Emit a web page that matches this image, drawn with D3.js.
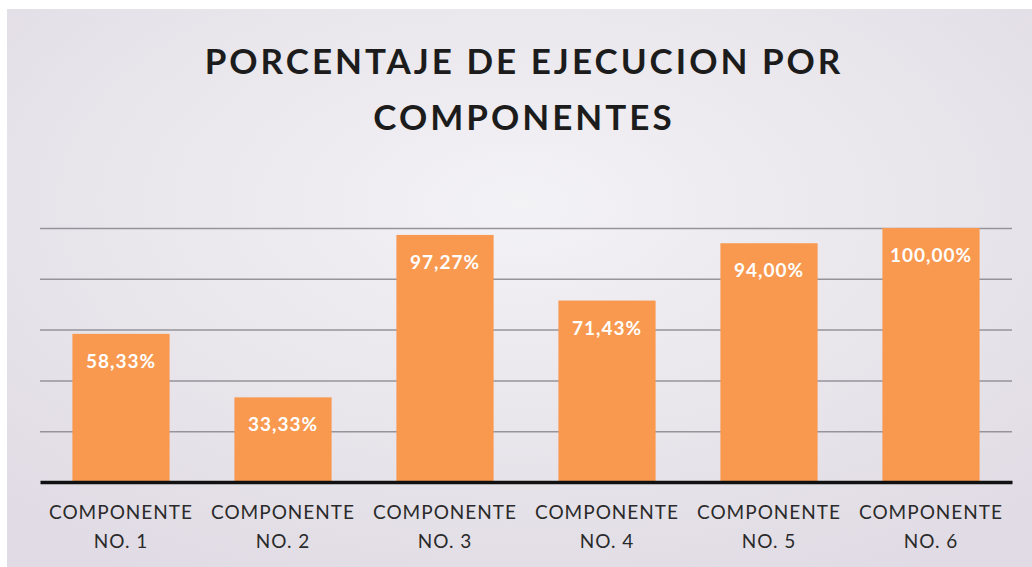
<!DOCTYPE html>
<html>
<head>
<meta charset="utf-8">
<script src="https://cdn.jsdelivr.net/npm/d3@7"></script>
<style>
  body { margin: 0; background: #fff; }
  svg { display: block; }
  text { font-family: Lato, "Open Sans", sans-serif; }
</style>
</head>
<body>
<svg id="chart" width="1032" height="567"></svg>
<script>
var categories = ['COMPONENTE NO. 1', 'COMPONENTE NO. 2', 'COMPONENTE NO. 3',
                  'COMPONENTE NO. 4', 'COMPONENTE NO. 5', 'COMPONENTE NO. 6'];
var values = [58.33, 33.33, 97.27, 71.43, 94.00, 100.00];
var gridTicks = [20, 40, 60, 80, 100];
var titleLines = ['PORCENTAJE DE EJECUCION POR', 'COMPONENTES'];

var svg = d3.select('#chart');
var width = 1032, height = 567;
var margin = {top: 228, right: 20, bottom: 85, left: 40};

// fondo con un poco de sombra como la foto
var defs = svg.append('defs');
var grad = defs.append('radialGradient')
    .attr('id', 'bg')
    .attr('cx', '50%').attr('cy', '35%').attr('r', '75%');
grad.append('stop').attr('offset', '0%').attr('stop-color', '#f3f2f5');
grad.append('stop').attr('offset', '100%').attr('stop-color', '#e0dbe4');

svg.append('rect')
    .attr('x', 7).attr('y', 9)
    .attr('width', width - 7).attr('height', height - 9)
    .attr('fill', 'url(#bg)');

var x = d3.scaleBand()
    .domain(categories)
    .range([margin.left, width - margin.right])
    .paddingInner(0.4)
    .paddingOuter(0.2);

var y = d3.scaleLinear()
    .domain([0, 100])
    .range([height - margin.bottom, margin.top]);

// lineas de cuadricula
svg.append('g')
    .attr('class', 'grid')
    .attr('transform', 'translate(' + margin.left + ',0)')
    .call(d3.axisLeft(y).tickValues(gridTicks).tickSize(-(width - margin.left - margin.right)).tickFormat(''))
    .call(function(g) {
        g.select('.domain').remove();
        g.selectAll('line').attr('stroke', '#96939a').attr('stroke-width', 1.5);
    });

// barras
svg.selectAll('.bar')
    .data(values)
    .enter().append('rect')
    .attr('class', 'bar')
    .attr('x', function(d, i) { return x(categories[i]); })
    .attr('y', function(d) { return y(d); })
    .attr('width', x.bandwidth())
    .attr('height', function(d) { return y(0) - y(d); })
    .attr('fill', '#f8994f');

// etiquetas de valor
svg.selectAll('.val')
    .data(values)
    .enter().append('text')
    .attr('class', 'val')
    .attr('x', function(d, i) { return x(categories[i]) + x.bandwidth() / 2; })
    .attr('y', function(d) { return y(d) + 34; })
    .attr('text-anchor', 'middle')
    .attr('font-size', 19)
    .attr('font-weight', 'bold')
    .attr('letter-spacing', 1)
    .attr('fill', '#ffffff')
    .text(function(d) { return d.toFixed(2).replace('.', ',') + '%'; });

// eje x
var xAxis = svg.append('g')
    .attr('transform', 'translate(0,' + y(0) + ')')
    .call(d3.axisBottom(x).tickSize(0).tickFormat(''));
xAxis.select('.domain').attr('stroke', '#111').attr('stroke-width', 3.5);

var labels = svg.selectAll('.cat')
    .data(categories)
    .enter().append('text')
    .attr('class', 'cat')
    .attr('text-anchor', 'middle')
    .attr('font-size', 19)
    .attr('letter-spacing', 1)
    .attr('fill', '#2a2a2a');
labels.each(function(d) {
    var t = d3.select(this);
    var cx = x(d) + x.bandwidth() / 2;
    var parts = d.split(' ');
    t.append('tspan').attr('x', cx).attr('y', y(0) + 37).text(parts[0]);
    t.append('tspan').attr('x', cx).attr('y', y(0) + 66).text(parts.slice(1).join(' '));
});

// titulo
svg.selectAll('.title')
    .data(titleLines)
    .enter().append('text')
    .attr('class', 'title')
    .attr('x', 524)
    .attr('y', function(d, i) { return 74 + i * 56; })
    .attr('text-anchor', 'middle')
    .attr('font-size', 35)
    .attr('font-weight', 'bold')
    .attr('letter-spacing', 3)
    .attr('fill', '#1c1c1c')
    .text(function(d) { return d; });
</script>
</body>
</html>
